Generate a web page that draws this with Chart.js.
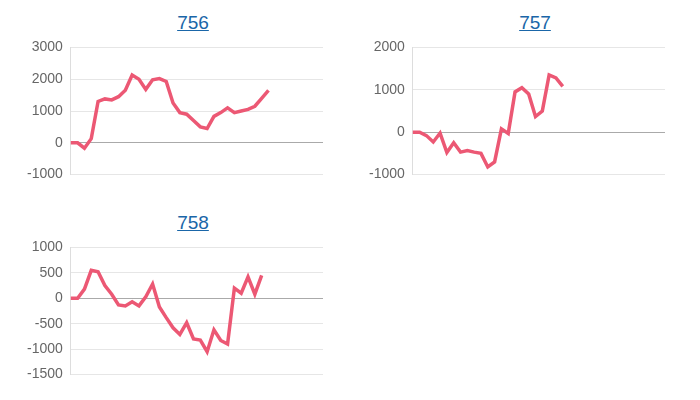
<!DOCTYPE html>
<html>
<head>
<meta charset="utf-8">
<script src="https://cdn.jsdelivr.net/npm/chart.js@4"></script>
<style>
  body { margin: 0; background: #fff; font-family: Arial, "Liberation Sans", sans-serif; }
  .box { position: absolute; width: 304px; height: 190px; }
  .box a { display: block; text-align: center; color: #1a66a8; font-size: 19px; text-decoration: underline; height: 21px; line-height: 26px; padding-left: 44px; }
  .box canvas { display: block; }
</style>
</head>
<body>
<div class="box" style="left:19px;top:10px"><a href="#">756</a><div style="height:160px"><canvas id="c756"></canvas></div></div>
<div class="box" style="left:361px;top:10px"><a href="#">757</a><div style="height:160px"><canvas id="c757"></canvas></div></div>
<div class="box" style="left:19px;top:210px"><a href="#">758</a><div style="height:160px"><canvas id="c758"></canvas></div></div>
<script>
const slots = 38;
const labels = Array.from({ length: slots }, (_, i) => String(i + 1));

const data756 = [0, 0, -170, 130, 1300, 1380, 1350, 1450, 1650, 2130, 2000, 1680, 1980, 2020, 1930, 1250, 950, 900, 700, 500, 450, 830, 950, 1100, 950, 1000, 1050, 1150, 1400, 1650];
const data757 = [0, 0, -80, -230, -20, -480, -250, -470, -430, -470, -500, -820, -700, 80, -30, 950, 1050, 900, 370, 500, 1350, 1280, 1080];
const data758 = [0, 0, 180, 550, 520, 250, 80, -130, -150, -70, -150, 30, 280, -170, -380, -580, -710, -480, -800, -820, -1050, -620, -830, -900, 200, 100, 420, 80, 450];

function drawChart(id, values, min, max, step) {
    new Chart(document.getElementById(id), {
        type: 'line',
        data: {
            labels,
            datasets: [{
                data: values,
                borderColor: 'rgb(236, 88, 116)',
                borderWidth: 3.5,
                pointRadius: 0,
                tension: 0,
                fill: false
            }]
        },
        options: {
            animation: false,
            responsive: true,
            maintainAspectRatio: false,
            plugins: { legend: { display: false }, tooltip: { enabled: false } },
            layout: { padding: 0 },
            scales: {
                x: { display: false },
                y: {
                    min, max,
                    ticks: { stepSize: step, color: '#666', font: { size: 14, family: 'Arial' }, padding: 8, callback: v => String(v) },
                    grid: {
                        drawTicks: false,
                        color: ctx => ctx.tick && ctx.tick.value === 0 ? '#aaa' : '#e6e6e6'
                    },
                    border: { display: true, color: '#ddd' }
                }
            }
        }
    });
}

drawChart('c756', data756, -1000, 3000, 1000);
drawChart('c757', data757, -1000, 2000, 1000);
drawChart('c758', data758, -1500, 1000, 500);
</script>
</body>
</html>
